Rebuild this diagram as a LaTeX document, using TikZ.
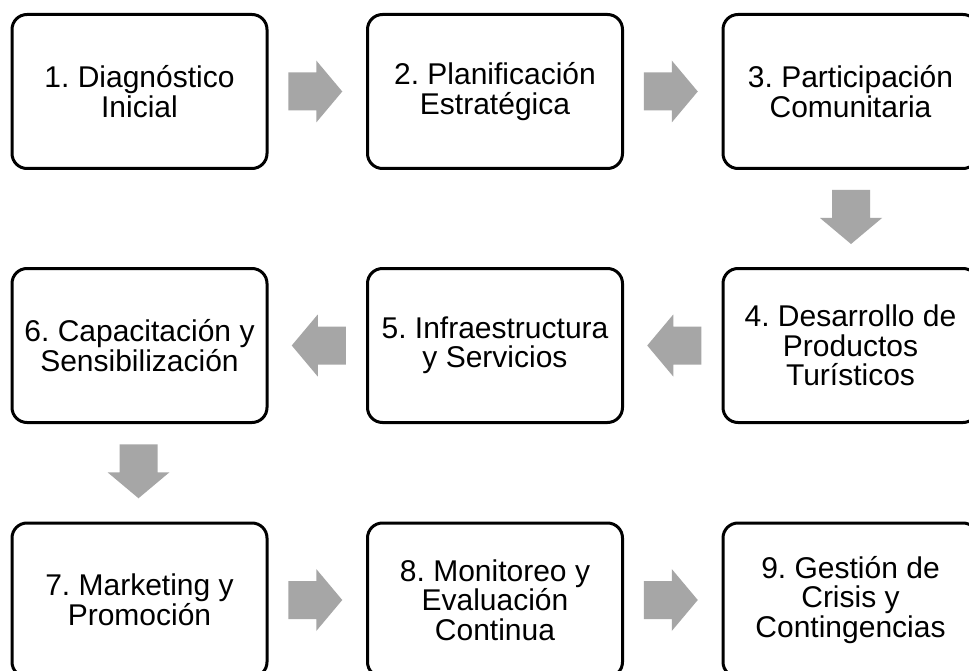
\documentclass[tikz,border=0pt]{standalone}
\usepackage{fontspec}
\setmainfont{Liberation Sans}
\usetikzlibrary{calc}
\definecolor{arrowgray}{HTML}{A6A6A6}
\tikzset{
  stepbox/.style={draw=black, line width=3pt, rounded corners=15pt,
    minimum width=255pt, minimum height=154pt, inner sep=0pt,
    align=center, font=\frenchspacing\fontsize{30}{29.5}\selectfont},
  blockarr/.pic={\fill[arrowgray] (-27,-19) -- (1,-19) -- (1,-31) -- (27,0) -- (1,31) -- (1,19) -- (-27,19) -- cycle;}
}
\begin{document}
\begin{tikzpicture}[x=1pt,y=1pt]
\useasboundingbox (0,0) rectangle (969,-671);
\clip (0,0) rectangle (969,-671);
\fill[white] (0,0) rectangle (969,-671);
% boxes
\node[stepbox] (n1) at (139.5,-91.5) {1. Diagnóstico\\Inicial};
\node[stepbox] (n2) at (495,-91.5) {2. Planificación\\Estratégica};
\node[stepbox] (n3) at (850.5,-91.5) {3. Participación\\Comunitaria};
\node[stepbox] (n4) at (850.5,-345.5) {4. Desarrollo de\\Productos\\Turísticos};
\node[stepbox] (n5) at (495,-345.5) {5. Infraestructura\\y Servicios};
\node[stepbox] (n6) at (139.5,-345.5) {6. Capacitación y\\Sensibilización};
\node[stepbox] (n7) at (139.5,-600) {7. Marketing y\\Promoción};
\node[stepbox] (n8) at (495,-600) {8. Monitoreo y\\Evaluación\\Continua};
\node[stepbox] (n9) at (850.5,-600) {9. Gestión de\\Crisis y\\Contingencias};
% block arrows
\pic at ($($(n1.east)!0.5!(n2.west)$)+(-2,0)$) {blockarr};
\pic at ($($(n2.east)!0.5!(n3.west)$)+(-2,0)$) {blockarr};
\pic[rotate=-90] at ($($(n3.south)!0.5!(n4.north)$)+(0.5,1.5)$) {blockarr};
\pic[rotate=180] at ($($(n4.west)!0.5!(n5.east)$)+(1.5,0)$) {blockarr};
\pic[rotate=180] at ($($(n5.west)!0.5!(n6.east)$)+(1.5,0)$) {blockarr};
\pic[rotate=-90] at ($($(n6.south)!0.5!(n7.north)$)+(-1,1.5)$) {blockarr};
\pic at ($($(n7.east)!0.5!(n8.west)$)+(-2,0)$) {blockarr};
\pic at ($($(n8.east)!0.5!(n9.west)$)+(-2,0)$) {blockarr};
\end{tikzpicture}
\end{document}
